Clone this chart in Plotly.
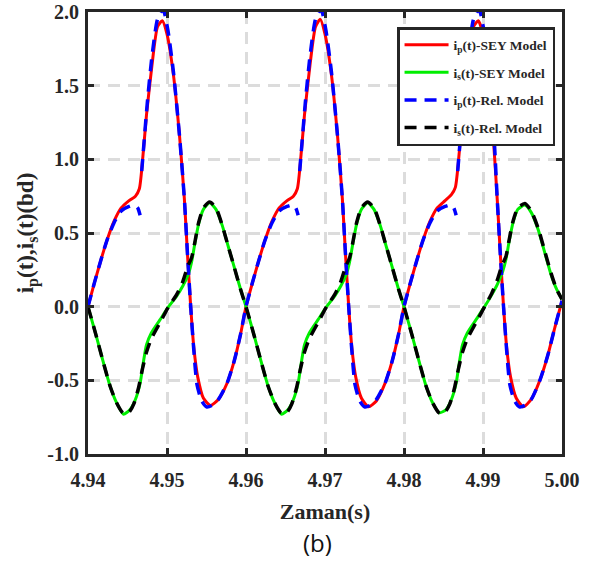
import plotly.graph_objects as go

# ---------------- data ----------------
t_ip_sey = [4.9400, 4.9408, 4.9416, 4.9424, 4.9433, 4.9442, 4.9452, 4.9460, 4.9465, 4.9470,
            4.9474, 4.9481, 4.9488, 4.9494, 4.9500, 4.9508, 4.9516, 4.9522, 4.9526, 4.9530,
            4.9534, 4.9539, 4.9546, 4.9555, 4.9565, 4.9576, 4.9585, 4.9593,
            4.9600, 4.9608, 4.9616, 4.9624, 4.9633, 4.9642, 4.9652, 4.9660, 4.9665, 4.9670,
            4.9674, 4.9681, 4.9688, 4.9694, 4.9700, 4.9708, 4.9716, 4.9722, 4.9726, 4.9730,
            4.9734, 4.9739, 4.9746, 4.9755, 4.9765, 4.9776, 4.9785, 4.9793,
            4.9800, 4.9808, 4.9816, 4.9824, 4.9833, 4.9842, 4.9852, 4.9860, 4.9865, 4.9870,
            4.9874, 4.9881, 4.9888, 4.9894, 4.9900, 4.9906, 4.9913, 4.9918, 4.9922, 4.9926,
            4.9930, 4.9935, 4.9942, 4.9951, 4.9961, 4.9972, 4.9982, 4.9991, 5.0000]
ip_sey = [0.00, 0.16, 0.31, 0.45, 0.58, 0.67, 0.72, 0.75, 0.80, 1.05,
          1.30, 1.64, 1.90, 1.94, 1.85, 1.58, 1.15, 0.73, 0.35, 0.00,
          -0.28, -0.48, -0.62, -0.67, -0.63, -0.52, -0.37, -0.19,
          0.00, 0.16, 0.31, 0.45, 0.58, 0.67, 0.72, 0.75, 0.80, 1.05,
          1.30, 1.64, 1.90, 1.95, 1.85, 1.58, 1.15, 0.73, 0.35, 0.00,
          -0.28, -0.48, -0.62, -0.68, -0.64, -0.52, -0.37, -0.19,
          0.00, 0.16, 0.31, 0.45, 0.58, 0.67, 0.72, 0.76, 0.81, 1.05,
          1.30, 1.64, 1.90, 1.94, 1.85, 1.58, 1.15, 0.73, 0.35, 0.00,
          -0.28, -0.48, -0.62, -0.68, -0.63, -0.50, -0.33, -0.14, 0.04]

t_is_sey = [4.9400, 4.9410, 4.9419, 4.9428, 4.9436, 4.9445, 4.9453, 4.9460, 4.9466, 4.9470,
            4.9474, 4.9480, 4.9491, 4.9502, 4.9512, 4.9520, 4.9527, 4.9531, 4.9535, 4.9540,
            4.9546, 4.9554, 4.9562, 4.9570, 4.9578, 4.9585, 4.9593,
            4.9600, 4.9610, 4.9619, 4.9628, 4.9636, 4.9645, 4.9653, 4.9660, 4.9666, 4.9670,
            4.9674, 4.9680, 4.9691, 4.9702, 4.9712, 4.9720, 4.9727, 4.9731, 4.9735, 4.9740,
            4.9746, 4.9754, 4.9762, 4.9770, 4.9778, 4.9785, 4.9793,
            4.9800, 4.9810, 4.9819, 4.9828, 4.9836, 4.9845, 4.9853, 4.9860, 4.9866, 4.9870,
            4.9874, 4.9880, 4.9891, 4.9902, 4.9911, 4.9918, 4.9925, 4.9929, 4.9933, 4.9938,
            4.9944, 4.9953, 4.9961, 4.9970, 4.9978, 4.9986, 4.9993, 5.0000]
is_sey = [0.00, -0.19, -0.37, -0.54, -0.65, -0.73, -0.70, -0.63, -0.52, -0.38,
          -0.26, -0.18, -0.09, 0.00, 0.07, 0.14, 0.22, 0.30, 0.42, 0.56,
          0.66, 0.705, 0.66, 0.55, 0.40, 0.27, 0.12,
          0.00, -0.19, -0.37, -0.54, -0.65, -0.73, -0.70, -0.63, -0.52, -0.38,
          -0.26, -0.18, -0.09, 0.00, 0.07, 0.14, 0.22, 0.30, 0.42, 0.56,
          0.66, 0.705, 0.66, 0.55, 0.40, 0.27, 0.12,
          0.00, -0.19, -0.37, -0.54, -0.65, -0.72, -0.70, -0.63, -0.52, -0.38,
          -0.26, -0.18, -0.09, 0.00, 0.08, 0.15, 0.24, 0.32, 0.44, 0.57,
          0.66, 0.69, 0.64, 0.52, 0.37, 0.22, 0.12, 0.05]

t_ip_rel = [4.9400, 4.9408, 4.9416, 4.9424, 4.9433, 4.9442, 4.9452, 4.9459, 4.9463, 4.9466, None,
            4.9468, 4.9471, 4.9475, 4.9481, 4.9488, 4.9495, 4.9501, 4.9508, 4.9516, 4.9522,
            4.9526, 4.9530, 4.9534, 4.9538, 4.9544, 4.9550, 4.9557, 4.9565, 4.9576, 4.9585, 4.9593,
            4.9600, 4.9608, 4.9616, 4.9624, 4.9633, 4.9642, 4.9652, 4.9659, 4.9663, 4.9666, None,
            4.9668, 4.9671, 4.9675, 4.9681, 4.9688, 4.9695, 4.9701, 4.9708, 4.9716, 4.9722,
            4.9726, 4.9730, 4.9734, 4.9738, 4.9744, 4.9750, 4.9757, 4.9765, 4.9776, 4.9785, 4.9793,
            4.9800, 4.9808, 4.9816, 4.9824, 4.9833, 4.9842, 4.9852, 4.9859, 4.9863, 4.9866, None,
            4.9868, 4.9871, 4.9875, 4.9881, 4.9888, 4.9895, 4.9901, 4.9907, 4.9914, 4.9918,
            4.9922, 4.9926, 4.9930, 4.9934, 4.9940, 4.9946, 4.9953, 4.9961, 4.9972, 4.9982, 4.9991, 5.0000]
ip_rel = [0.00, 0.16, 0.31, 0.45, 0.57, 0.65, 0.68, 0.69, 0.67, 0.62, None,
          0.92, 1.12, 1.38, 1.70, 1.95, 2.02, 1.88, 1.60, 1.15, 0.73,
          0.35, 0.00, -0.30, -0.53, -0.64, -0.68, -0.67, -0.63, -0.52, -0.37, -0.19,
          0.00, 0.16, 0.31, 0.45, 0.57, 0.65, 0.68, 0.69, 0.67, 0.62, None,
          0.92, 1.12, 1.38, 1.70, 1.95, 2.02, 1.88, 1.60, 1.15, 0.73,
          0.35, 0.00, -0.30, -0.53, -0.64, -0.68, -0.67, -0.63, -0.52, -0.37, -0.19,
          0.00, 0.16, 0.31, 0.45, 0.57, 0.65, 0.68, 0.69, 0.67, 0.62, None,
          0.92, 1.12, 1.38, 1.70, 1.95, 2.02, 1.88, 1.60, 1.15, 0.73,
          0.35, 0.00, -0.30, -0.53, -0.64, -0.68, -0.67, -0.63, -0.50, -0.33, -0.14, 0.04]

t_is_rel = [4.9400, 4.9410, 4.9419, 4.9428, 4.9436, 4.9444, 4.9449, 4.9453, 4.9458, 4.9464,
            4.9469, 4.9474, 4.9480, 4.9491, 4.9502, 4.9512, 4.9520, 4.9526, 4.9531, 4.9535,
            4.9540, 4.9546, 4.9554, 4.9562, 4.9570, 4.9578, 4.9585, 4.9593,
            4.9600, 4.9610, 4.9619, 4.9628, 4.9636, 4.9644, 4.9649, 4.9653, 4.9658, 4.9664,
            4.9669, 4.9674, 4.9680, 4.9691, 4.9702, 4.9712, 4.9720, 4.9726, 4.9731, 4.9735,
            4.9740, 4.9746, 4.9754, 4.9762, 4.9770, 4.9778, 4.9785, 4.9793,
            4.9800, 4.9810, 4.9819, 4.9828, 4.9836, 4.9844, 4.9849, 4.9853, 4.9858, 4.9864,
            4.9869, 4.9874, 4.9880, 4.9891, 4.9902, 4.9911, 4.9918, 4.9924, 4.9929, 4.9933,
            4.9938, 4.9944, 4.9953, 4.9961, 4.9970, 4.9978, 4.9986, 4.9993, 5.0000]
is_rel = [0.00, -0.19, -0.37, -0.54, -0.65, -0.72, -0.73, -0.71, -0.66, -0.55,
          -0.42, -0.31, -0.22, -0.11, 0.00, 0.08, 0.17, 0.27, 0.33, 0.43,
          0.57, 0.67, 0.71, 0.67, 0.55, 0.40, 0.27, 0.12,
          0.00, -0.19, -0.37, -0.54, -0.65, -0.72, -0.73, -0.71, -0.66, -0.55,
          -0.42, -0.31, -0.22, -0.11, 0.00, 0.08, 0.17, 0.27, 0.33, 0.43,
          0.57, 0.67, 0.71, 0.67, 0.55, 0.40, 0.27, 0.12,
          0.00, -0.19, -0.37, -0.54, -0.65, -0.72, -0.73, -0.71, -0.66, -0.55,
          -0.42, -0.31, -0.22, -0.11, 0.00, 0.09, 0.18, 0.28, 0.34, 0.45,
          0.58, 0.67, 0.70, 0.65, 0.53, 0.38, 0.23, 0.12, 0.05]

x_ticks = [4.94, 4.95, 4.96, 4.97, 4.98, 4.99, 5.00]
x_tick_labels = ["4.94", "4.95", "4.96", "4.97", "4.98", "4.99", "5.00"]
y_ticks = [-1.0, -0.5, 0.0, 0.5, 1.0, 1.5, 2.0]
y_tick_labels = ["-1.0", "-0.5", "0.0", "0.5", "1.0", "1.5", "2.0"]

names = ["i<sub>p</sub>(t)-SEY Model", "i<sub>s</sub>(t)-SEY Model",
         "i<sub>p</sub>(t)-Rel. Model", "i<sub>s</sub>(t)-Rel. Model"]

# ---------------- figure ----------------
SERIF = "Liberation Serif, Times New Roman, serif"
fig = go.Figure()
fig.add_trace(go.Scatter(x=t_ip_sey, y=ip_sey, mode="lines", name=names[0], legendgroup="a",
                         line=dict(color="#ff0000", width=3, shape="spline", smoothing=0.6)))
fig.add_trace(go.Scatter(x=t_is_sey, y=is_sey, mode="lines", name=names[1], legendgroup="b",
                         line=dict(color="#00ee00", width=3, shape="spline", smoothing=0.6)))
fig.add_trace(go.Scatter(x=t_ip_rel, y=ip_rel, mode="lines", name=names[2], legendgroup="c",
                         line=dict(color="#0000ff", width=3.5, dash="12px,8px", shape="spline", smoothing=0.6)))
fig.add_trace(go.Scatter(x=t_is_rel, y=is_rel, mode="lines", name=names[3], legendgroup="d",
                         line=dict(color="#000000", width=3.5, dash="12px,8px", shape="spline", smoothing=0.6)))

axis_common = dict(
    showline=True, linecolor="#262626", linewidth=3, mirror="ticks",
    ticks="inside", ticklen=6, tickwidth=3, tickcolor="#262626",
    showgrid=True, gridcolor="#dcdcdc", gridwidth=2.5, griddash="12px,8px",
    zeroline=False,
    tickfont=dict(family=SERIF, size=20, color="#262626", weight="bold"),
)

fig.update_xaxes(range=[4.94, 5.00], tickvals=x_ticks, ticktext=x_tick_labels,
                 ticklabelstandoff=6,
                 title=dict(text="Zaman(s)", standoff=14,
                            font=dict(family=SERIF, size=22, color="#262626", weight="bold")),
                 **axis_common)
fig.update_yaxes(range=[-1.0, 2.0], tickvals=y_ticks, ticktext=y_tick_labels,
                 ticklabelstandoff=2,
                 title=dict(text="i<sub>p</sub>(t),i<sub>s</sub>(t)(bd)", standoff=8,
                            font=dict(family=SERIF, size=23, color="#262626", weight="bold")),
                 **axis_common)

fig.update_layout(
    width=602, height=572,
    margin=dict(l=88, r=40, t=12, b=118, autoexpand=False),
    plot_bgcolor="white", paper_bgcolor="white",
    showlegend=True,
    legend=dict(x=0.652, y=0.966, xanchor="left", yanchor="top",
                bgcolor="white", bordercolor="#262626", borderwidth=2.5,
                font=dict(family=SERIF, size=13.5, color="#262626", weight="bold"),
                itemwidth=44, tracegroupgap=7),
    annotations=[dict(text="(b)", x=0.485, y=-0.2, xref="paper", yref="paper",
                      showarrow=False, xanchor="center", yanchor="middle",
                      font=dict(family="Open Sans, Noto Sans, sans-serif", size=24, color="#111"))],
)

fig.write_html("out.html")
